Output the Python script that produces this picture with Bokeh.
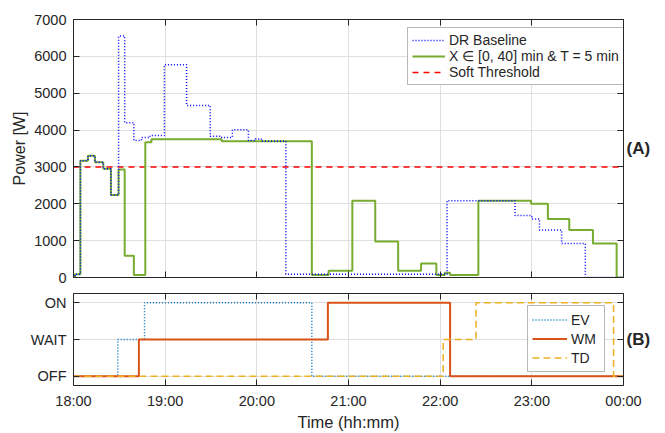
from bokeh.plotting import figure
from bokeh.models import Range1d, LinearAxis, FixedTicker, Legend, LegendItem
from bokeh.layouts import column
from bokeh.embed import file_html
from bokeh.resources import INLINE

FONT = "Liberation Sans"
INK = "#262626"
GRID = "#dfdfdf"

# ---- data (time in minutes after 18:00) ----
hour_ticks = [0, 60, 120, 180, 240, 300, 360]
hour_labels = ["18:00", "19:00", "20:00", "21:00", "22:00", "23:00", "00:00"]
power_ticks = [0, 1000, 2000, 3000, 4000, 5000, 6000, 7000]
state_ticks = [0, 1, 2]
state_labels = ["OFF", "WAIT", "ON"]

baseline_t = [0, 1, 4.5, 9.5, 14, 19.5, 24.5, 29.5, 33.5, 39.5, 44.5, 50, 59.5, 74,
              89.5, 97, 104, 114.5, 119, 123, 139, 244.5, 289, 300, 305, 319.5, 335, 360]
baseline_p = [0, 90, 3170, 3300, 3130, 2950, 2240, 6550, 4200, 3720, 3800, 3850, 5775, 4670,
              3830, 3800, 4010, 3720, 3760, 3700, 90, 2085, 1680, 1590, 1290, 925, 0, 0]

dr_t = [0, 1, 4.5, 9.5, 14, 19.5, 24.5, 29.5, 33.5, 39.5, 47, 51, 97, 156, 167, 182.5,
        197.5, 212.5, 227.5, 237.5, 243, 246.5, 265, 299.5, 310.5, 324.5, 340, 355.5, 360]
dr_p = [0, 90, 3170, 3300, 3130, 2950, 2240, 2930, 590, 70, 3670, 3750, 3700, 70, 180, 2085,
        980, 180, 380, 70, 130, 70, 2085, 2000, 1590, 1290, 925, 0, 0]

soft_threshold = 3000

ev_t = [0, 29, 46.5, 156, 360]
ev_s = [0, 1, 2, 0, 0]
wm_t = [0, 42.8, 166.5, 246.5, 360]
wm_s = [0, 1, 2, 0, 0]
td_t = [0, 242, 263.5, 353.5, 360]
td_s = [0, 1, 2, 0, 0]

legend_top = ["DR Baseline", "X \u2208 [0, 40] min & T = 5 min", "Soft Threshold"]
legend_bot = ["EV", "WM", "TD"]

xr = Range1d(0, 360)


def style_axis(ax, ticks, show_labels=True, fs="14.5px"):
    ax.ticker = FixedTicker(ticks=ticks)
    ax.axis_line_color = INK
    ax.axis_line_width = 1
    ax.major_tick_line_color = INK
    ax.major_tick_in = 6
    ax.major_tick_out = 0
    ax.minor_tick_line_color = None
    ax.major_label_text_font = FONT
    ax.major_label_text_color = INK
    ax.axis_label_text_font = FONT
    ax.axis_label_text_color = INK
    ax.axis_label_text_font_style = "normal"
    if show_labels:
        ax.major_label_text_font_size = fs
        ax.major_label_standoff = 7
    else:
        ax.major_label_overrides = {t: "" for t in ticks}
        ax.major_label_text_font_size = "0px"
        ax.major_label_standoff = 0


def make_fig(height, yr, mbt, mbb):
    p = figure(width=665, height=height, x_range=xr, y_range=yr,
               output_backend="svg", toolbar_location=None,
               min_border_left=73, min_border_right=42,
               min_border_top=mbt, min_border_bottom=mbb)
    p.outline_line_color = None
    p.background_fill_color = "white"
    p.border_fill_color = "white"
    return p


# ---------------- top panel ----------------
top = make_fig(285, Range1d(0, 7000), 19, 8)
top_above = LinearAxis()
top_right = LinearAxis(axis_label="(A)", axis_label_orientation="horizontal")
top.add_layout(top_above, "above")
top.add_layout(top_right, "right")
top_below = top.below[0]
top_left = top.left[0]
style_axis(top_above, hour_ticks, False)
style_axis(top_below, hour_ticks, False)
style_axis(top_left, power_ticks, True)
top_left.axis_label = "Power [W]"
top_left.axis_label_text_font_size = "16px"
top_left.axis_label_standoff = 3
style_axis(top_right, power_ticks, False)
top_right.axis_label_text_font_size = "17px"
top_right.axis_label_text_font_style = "bold"
top_right.axis_label_standoff = 3
top.grid.grid_line_color = GRID

r_base = top.step(baseline_t, baseline_p, mode="after", line_color="#0000FF",
                  line_width=1.5, line_dash="1 2")
r_dr = top.step(dr_t, dr_p, mode="after", line_color="#77AC30", line_width=2)
r_thr = top.line([0, 360], [soft_threshold, soft_threshold], line_color="#FF0000",
                 line_width=1.5, line_dash="6 5")
top.renderers = [r_thr, r_dr, r_base]

lt = Legend(items=[LegendItem(label=legend_top[0], renderers=[r_base]),
                   LegendItem(label=legend_top[1], renderers=[r_dr]),
                   LegendItem(label=legend_top[2], renderers=[r_thr])],
            location=(334, 192), margin=0, padding=4, spacing=0,
            label_height=16, glyph_height=16, glyph_width=33, label_standoff=4,
            label_text_font=FONT, label_text_font_size="14px", label_text_color=INK,
            border_line_color="#6f6f6f", border_line_width=1,
            background_fill_color="white", background_fill_alpha=1)
top.add_layout(lt)

# ---------------- bottom panel ----------------
bot = make_fig(148, Range1d(-0.25, 2.25), 8, 46)
bot_above = LinearAxis()
bot_right = LinearAxis(axis_label="(B)", axis_label_orientation="horizontal")
bot.add_layout(bot_above, "above")
bot.add_layout(bot_right, "right")
bot_below = bot.below[0]
bot_left = bot.left[0]
style_axis(bot_below, hour_ticks, True)
bot_below.major_label_overrides = {t: l for t, l in zip(hour_ticks, hour_labels)}
bot_below.major_label_standoff = 7
bot_below.axis_label = "Time (hh:mm)"
bot_below.axis_label_text_font_size = "16.5px"
bot_below.axis_label_standoff = 1
style_axis(bot_above, hour_ticks, False)
style_axis(bot_left, state_ticks, True)
bot_left.major_label_overrides = {t: l for t, l in zip(state_ticks, state_labels)}
style_axis(bot_right, state_ticks, False)
bot_right.axis_label_text_font_size = "17px"
bot_right.axis_label_text_font_style = "bold"
bot_right.axis_label_standoff = 3
bot.grid.grid_line_color = GRID

r_ev = bot.step(ev_t, ev_s, mode="after", line_color="#0072BD", line_width=1.5, line_dash="1 2")
r_wm = bot.step(wm_t, wm_s, mode="after", line_color="#D95319", line_width=2)
r_td = bot.step(td_t, td_s, mode="after", line_color="#EDB120", line_width=1.5, line_dash="7 4")

lb = Legend(items=[LegendItem(label=legend_bot[0], renderers=[r_ev]),
                   LegendItem(label=legend_bot[1], renderers=[r_wm]),
                   LegendItem(label=legend_bot[2], renderers=[r_td])],
            location=(454, 13), margin=0, padding=4, spacing=0,
            label_height=19, glyph_height=19, glyph_width=35, label_standoff=4,
            label_width=29,
            label_text_font=FONT, label_text_font_size="14px", label_text_color=INK,
            border_line_color="#6f6f6f", border_line_width=1,
            background_fill_color="white", background_fill_alpha=1)
bot.add_layout(lb)

layout = column(top, bot, spacing=0)
open("out.html", "w").write(file_html(layout, INLINE))
